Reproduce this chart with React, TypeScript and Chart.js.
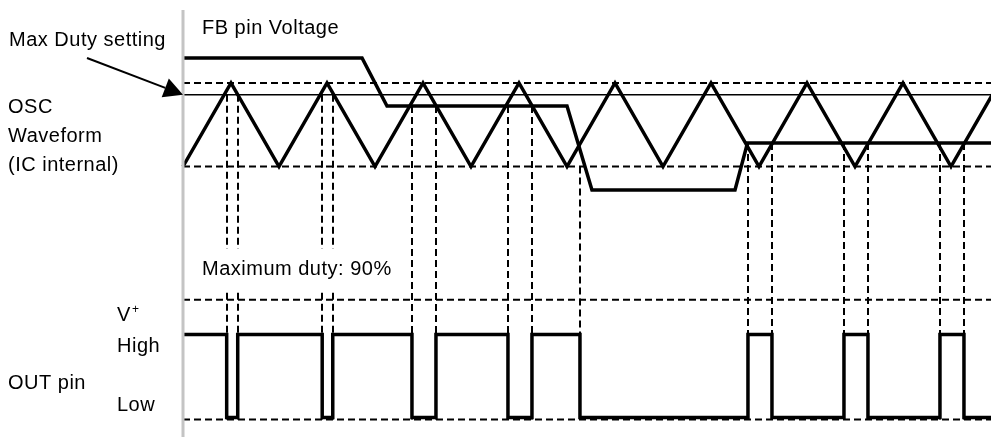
import React, { useEffect, useRef } from "react";
import { Chart, registerables } from "chart.js";

Chart.register(...registerables);

// ---- Data (time in half-periods of the oscillator, levels normalized) ----
// OSC triangle: turning points (trough = 0, peak = 1)
const OSC_T = [0, 1, 2, 3, 4, 5, 6, 7, 8, 9, 10, 11, 12, 13, 14, 15, 16, 17];
const OSC_V = [0, 1, 0, 1, 0, 1, 0, 1, 0, 1, 0, 1, 0, 1, 0, 1, 0, 1];
// Max duty setting level (thin solid line)
const MAX_DUTY_LEVEL = 0.86;
// FB pin voltage (thick line)
const FB_T = [0, 3.73, 4.25, 8.0, 8.52, 11.5, 11.76, 17];
const FB_V = [1.3, 1.3, 0.725, 0.725, -0.28, -0.28, 0.28, 0.28];
// OSC guide levels (dashed): top / bottom of triangle
const OSC_GUIDES = [1, 0];
// OUT pin: start level, edge times and level after each edge
const OUT_START = 1;
const OUT_EDGES = [0.91, 1.14, 2.9, 3.12, 4.77, 5.27, 6.77, 7.27, 8.27, 11.77, 12.27, 13.77, 14.27, 15.77, 16.27];
const OUT_LEVELS = [0, 1, 0, 1, 0, 1, 0, 1, 0, 1, 0, 1, 0, 1, 0];
// upper end (OSC level) of the vertical dashed line at each edge
const EDGE_TOPS = [0.86, 0.86, 0.86, 0.86, 0.725, 0.725, 0.725, 0.725, 0, 0.28, 0.28, 0.28, 0.28, 0.28, 0.28];
// OUT guide levels (dashed): V+ and Low reference
const OUT_VPLUS = 1.42;
const OUT_LOW_GUIDE = -0.024;

const T_START = 0;
const T_END = 17;

const FONT = '"Liberation Sans", Arial, Helvetica, sans-serif';

function buildOut() {
  const pts: { x: number; y: number }[] = [{ x: T_START, y: OUT_START }];
  let prev = OUT_START;
  OUT_EDGES.forEach((t, i) => {
    pts.push({ x: t, y: prev });
    pts.push({ x: t, y: OUT_LEVELS[i] });
    prev = OUT_LEVELS[i];
  });
  pts.push({ x: T_END, y: prev });
  return pts;
}

const overlay = {
  id: "overlay",
  beforeDatasetsDraw(chart: any) {
    const ctx = chart.ctx as CanvasRenderingContext2D;
    const xs = chart.scales.x;
    const yo = chart.scales.yOsc;
    const yu = chart.scales.yOut;
    ctx.save();
    ctx.strokeStyle = "#000";
    ctx.lineWidth = 2;
    ctx.setLineDash([7, 4]);
    OUT_EDGES.forEach((t, i) => {
      const x = Math.round(xs.getPixelForValue(t)) + 0.0;
      ctx.beginPath();
      ctx.moveTo(x, yo.getPixelForValue(EDGE_TOPS[i]));
      ctx.lineTo(x, yu.getPixelForValue(OUT_LOW_GUIDE));
      ctx.stroke();
    });
    ctx.setLineDash([]);
    // label box
    const ax = xs.getPixelForValue(0);
    ctx.fillStyle = "#fff";
    ctx.fillRect(ax + 3, 249, 220, 40);
    ctx.fillStyle = "#000";
    ctx.font = `20px ${FONT}`;
    (ctx as any).letterSpacing = "0.5px";
    ctx.textBaseline = "alphabetic";
    ctx.fillText("Maximum duty: 90%", 202, 275);
    ctx.restore();
  },
  afterDatasetsDraw(chart: any) {
    const ctx = chart.ctx as CanvasRenderingContext2D;
    const xs = chart.scales.x;
    const yo = chart.scales.yOsc;
    const ax = xs.getPixelForValue(0);
    ctx.save();
    // vertical gray axis
    ctx.fillStyle = "#c4c4c4";
    ctx.fillRect(ax - 1.5, 10, 3, chart.height - 10);
    // arrow
    const tipX = ax;
    const tipY = yo.getPixelForValue(MAX_DUTY_LEVEL);
    const sx = 87;
    const sy = 58;
    const ang = Math.atan2(tipY - sy, tipX - sx);
    const hl = 19;
    const hw = 10;
    const bx = tipX - hl * Math.cos(ang);
    const by = tipY - hl * Math.sin(ang);
    ctx.strokeStyle = "#000";
    ctx.lineWidth = 2;
    ctx.beginPath();
    ctx.moveTo(sx, sy);
    ctx.lineTo(bx, by);
    ctx.stroke();
    ctx.fillStyle = "#000";
    ctx.beginPath();
    ctx.moveTo(tipX, tipY);
    ctx.lineTo(bx - hw * Math.sin(ang), by + hw * Math.cos(ang));
    ctx.lineTo(bx + hw * Math.sin(ang), by - hw * Math.cos(ang));
    ctx.closePath();
    ctx.fill();
    // texts
    ctx.font = `20px ${FONT}`;
    (ctx as any).letterSpacing = "0.5px";
    ctx.textBaseline = "alphabetic";
    const texts: [string, number, number][] = [
      ["Max Duty setting", 9, 45.5],
      ["FB pin Voltage", 202, 34],
      ["OSC", 8, 112.5],
      ["Waveform", 8, 141.5],
      ["(IC internal)", 8, 170.5],
      ["V", 117, 321],
      ["High", 117, 351.5],
      ["OUT pin", 8, 389],
      ["Low", 117, 410.5],
    ];
    texts.forEach(([s, x, y]) => ctx.fillText(s, x, y));
    ctx.font = `12px ${FONT}`;
    (ctx as any).letterSpacing = "0px";
    ctx.fillText("+", 132, 313);
    ctx.restore();
  },
};

export default function App() {
  const ref = useRef<HTMLCanvasElement | null>(null);
  useEffect(() => {
    if (!ref.current) return;
    const line = (data: any[], extra: any) => ({
      data,
      borderColor: "#000",
      pointRadius: 0,
      tension: 0,
      fill: false,
      borderJoinStyle: "miter",
      ...extra,
    });
    const oscData = OSC_T.map((t, i) => ({ x: t, y: OSC_V[i] }));
    const fbData = FB_T.map((t, i) => ({ x: t, y: FB_V[i] }));
    const datasets: any[] = [
      line(buildOut(), { label: "OUT pin", yAxisID: "yOut", borderWidth: 3.5 }),
      line(fbData, { label: "FB pin Voltage", yAxisID: "yOsc", borderWidth: 3.5 }),
      line(oscData, { label: "OSC", yAxisID: "yOsc", borderWidth: 3.5 }),
      line(
        [
          { x: T_START, y: MAX_DUTY_LEVEL },
          { x: T_END, y: MAX_DUTY_LEVEL },
        ],
        { label: "Max Duty", yAxisID: "yOsc", borderWidth: 1.5 }
      ),
      ...OSC_GUIDES.map((lv) =>
        line(
          [
            { x: T_START, y: lv },
            { x: T_END, y: lv },
          ],
          { label: "osc guide", yAxisID: "yOsc", borderWidth: 2, borderDash: [7, 4] }
        )
      ),
      ...[OUT_VPLUS, OUT_LOW_GUIDE].map((lv) =>
        line(
          [
            { x: T_START, y: lv },
            { x: T_END, y: lv },
          ],
          { label: "out guide", yAxisID: "yOut", borderWidth: 2, borderDash: [7, 4] }
        )
      ),
    ];
    const chart = new Chart(ref.current, {
      type: "line",
      data: { datasets },
      options: {
        animation: false,
        responsive: false,
        devicePixelRatio: 1,
        layout: { padding: 0 },
        plugins: { legend: { display: false }, tooltip: { enabled: false } },
        scales: {
          x: { type: "linear", min: -3.8125, max: 16.8333, display: false },
          yOsc: { type: "linear", position: "left", min: -3.2395, max: 1.994, display: false },
          yOut: { type: "linear", position: "right", min: -0.2349, max: 5.0301, display: false },
        },
      },
      plugins: [overlay],
    } as any);
    return () => chart.destroy();
  }, []);
  return (
    <div style={{ position: "absolute", left: 0, top: 0, width: 991, height: 437, background: "#fff" }}>
      <canvas ref={ref} width={991} height={437} style={{ display: "block" }} />
    </div>
  );
}
